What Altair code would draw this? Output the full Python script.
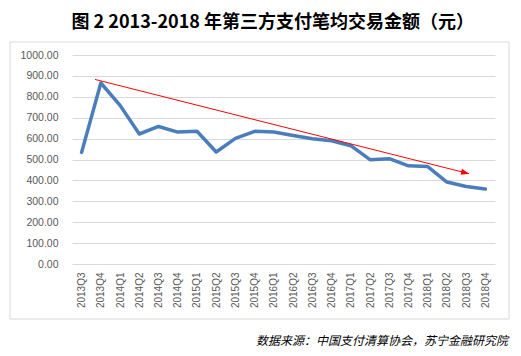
import json
import altair as alt
import pandas as pd

quarters = ["2013Q3", "2013Q4", "2014Q1", "2014Q2", "2014Q3", "2014Q4",
            "2015Q1", "2015Q2", "2015Q3", "2015Q4", "2016Q1", "2016Q2",
            "2016Q3", "2016Q4", "2017Q1", "2017Q2", "2017Q3", "2017Q4",
            "2018Q1", "2018Q2", "2018Q3", "2018Q4"]
values = [534, 866, 759, 622, 658, 631, 635, 536, 601, 635, 632, 615,
          599, 590, 566, 499, 504, 470, 466, 392, 371, 359]

# red trend arrow (annotation, in data coordinates: quarter index, value)
trend_x = [0.7, 20.15]
trend_y = [883, 432]

title_text = "图 2 2013-2018 年第三方支付笔均交易金额（元）"
source_text = "数据来源：中国支付清算协会，苏宁金融研究院"

df = pd.DataFrame({"idx": list(range(len(quarters))), "q": quarters, "v": values})
trend = pd.DataFrame({"idx": [trend_x[0]], "v": [trend_y[0]], "idx2": [trend_x[1]], "v2": [trend_y[1]]})
head = pd.DataFrame({"idx": [trend_x[1]], "v": [trend_y[1]]})
one = pd.DataFrame({"a": [0]})

label_expr = json.dumps(quarters) + "[datum.value]"

xscale = alt.Scale(domain=[-0.5, len(quarters) - 0.5], nice=False, zero=False)
yscale = alt.Scale(domain=[0, 1000], nice=False)

x_axis = alt.Axis(values=list(range(len(quarters))), labelExpr=label_expr,
                  labelAngle=270, grid=False, domain=False, ticks=False, tickSize=0,
                  labelPadding=8, labelFont="Liberation Sans", labelFontSize=10,
                  labelColor="#595959", title=None, labelOverlap=False)
y_axis = alt.Axis(values=list(range(0, 1001, 100)), format=".2f", grid=True,
                  gridColor="#d9d9d9", gridWidth=1, domain=False, ticks=False, tickSize=0,
                  labelPadding=14, labelFont="Liberation Sans", labelFontSize=10.5,
                  labelColor="#595959", title=None, labelOverlap=False)

X = alt.X("idx:Q", scale=xscale, axis=x_axis)
Y = alt.Y("v:Q", scale=yscale, axis=y_axis)

border = alt.Chart(one).mark_rect(fill=None, stroke="#d9d9d9", strokeWidth=1).encode(
    x=alt.value(-62), x2=alt.value(437), y=alt.value(-13), y2=alt.value(264))

line = alt.Chart(df).mark_line(color="#4a7ebb", strokeWidth=3.5, strokeJoin="round",
                               strokeCap="round").encode(x=X, y=Y)

arrow = alt.Chart(trend).mark_rule(color="#ff0000", strokeWidth=1).encode(
    x=X, y=Y, x2="idx2:Q", y2="v2:Q")

arrowhead = alt.Chart(head).mark_point(
    shape="M0,0 L-2,-0.75 L-2,0.75 Z", filled=True, color="#ff0000", opacity=1,
    size=64, angle=14).encode(x=X, y=Y)

source = alt.Chart(one).mark_text(align="right", baseline="middle", fontStyle="italic",
                                  font="Noto Sans CJK SC", fontSize=12, color="#000000").encode(
    x=alt.value(436), y=alt.value(286), text=alt.value(source_text))

chart = alt.layer(line, border, arrow, arrowhead, source).properties(
    width=423, height=209,
    autosize=alt.AutoSizeParams(type="none"),
    padding={"left": 64, "top": 47, "right": 18, "bottom": 84},
    title=alt.TitleParams(title_text, anchor="start", dx=62, offset=10,
                          font="Noto Sans CJK SC", fontSize=18, fontWeight="bold", color="#000000"),
    background="white",
).configure_view(stroke=None).configure_axis(labelOverlap=False)

chart.save("out.html", embed_options={"renderer": "svg", "actions": False})
